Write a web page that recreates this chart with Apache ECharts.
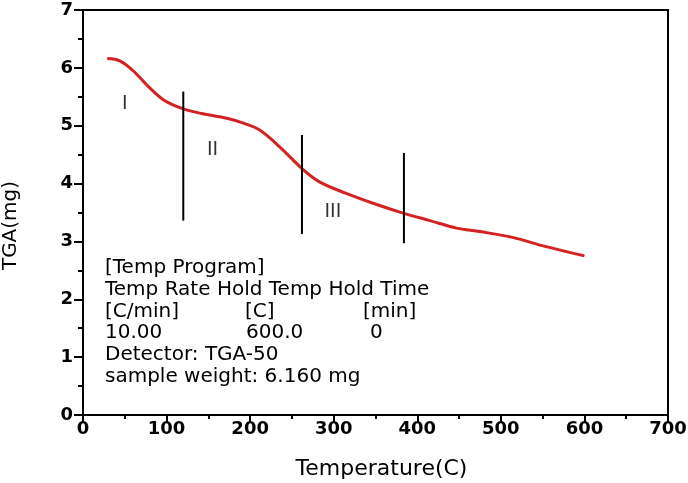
<!DOCTYPE html>
<html>
<head>
<meta charset="utf-8">
<script src="https://cdn.jsdelivr.net/npm/echarts@6/dist/echarts.min.js"></script>
<style>html,body{margin:0;padding:0;background:#fff}#c{width:688px;height:483px}</style>
</head>
<body>
<div id="c"></div>
<script>
// Curve data
var tempC = [29, 44, 60, 78, 98, 120, 142, 172, 191, 211, 235, 262, 283, 315, 347, 383, 415, 447, 475, 514, 554, 600];
var tgaMg = [6.16, 6.12, 5.95, 5.68, 5.43, 5.29, 5.21, 5.13, 5.05, 4.93, 4.64, 4.26, 4.03, 3.83, 3.66, 3.49, 3.36, 3.23, 3.17, 3.07, 2.91, 2.75];
// Stage dividers
var dividerTemp = [120, 262, 384];
var dividerTop = [5.59, 4.84, 4.53];
var dividerBottom = [3.36, 3.13, 2.97];
// Stage labels
var stageNames = ['I', 'II', 'III'];
var stageTemp = [50, 155, 299];
var stageTga = [5.38, 4.58, 3.51];
// Axis ticks
var xTicks = [0, 100, 200, 300, 400, 500, 600, 700];
var yTicks = [0, 1, 2, 3, 4, 5, 6, 7];
// Info block text
var infoRows = [
  ['[Temp Program]'],
  ['Temp Rate Hold Temp Hold Time'],
  ['[C/min]', '[C]', '[min]'],
  ['10.00', '600.0', '0'],
  ['Detector: TGA-50'],
  ['sample weight: 6.160 mg']
];

var chart = echarts.init(document.getElementById('c'));
var FONT = 'DejaVu Sans';

var series = [{
  type: 'line',
  data: tempC.map(function (t, i) { return [t, tgaMg[i]]; }),
  smooth: 0.35,
  showSymbol: false,
  lineStyle: { color: '#d42222', width: 3 },
  itemStyle: { color: '#d42222' },
  z: 3
}];
dividerTemp.forEach(function (t, i) {
  series.push({
    type: 'line',
    data: [[t, dividerTop[i]], [t, dividerBottom[i]]],
    showSymbol: false,
    lineStyle: { color: '#000', width: 2 },
    z: 4
  });
});
series.push({
  type: 'scatter',
  data: stageTemp.map(function (t, i) { return { value: [t, stageTga[i]], name: stageNames[i] }; }),
  symbolSize: 0,
  label: {
    show: true, position: 'inside', formatter: '{b}',
    color: '#000', fontFamily: FONT, fontSize: 19
  },
  z: 5
});

var colX = [[105], [105], [105, 245, 363], [105, 246, 370], [105], [105]];
var rowY = [268, 290, 311.5, 333, 355, 376.5];
var graphics = [];
infoRows.forEach(function (row, r) {
  row.forEach(function (txt, c) {
    graphics.push({
      type: 'text', x: colX[r][c], y: rowY[r],
      style: { text: txt, fill: '#000', font: '20px "' + FONT + '"', textVerticalAlign: 'middle', textAlign: 'left' },
      z: 10
    });
  });
});

chart.setOption({
  animation: false,
  backgroundColor: '#fff',
  grid: { left: 83, right: 20, top: 10, bottom: 68, show: true, borderColor: '#000', borderWidth: 2, containLabel: false, outerBoundsMode: 'none' },
  xAxis: {
    type: 'value', min: xTicks[0], max: xTicks[xTicks.length - 1], interval: 100,
    name: 'Temperature(C)', nameLocation: 'middle', nameGap: 43,
    nameTextStyle: { fontFamily: FONT, fontSize: 22, color: '#000', padding: [0, 0, 0, 12] },
    axisLine: { lineStyle: { color: '#000', width: 2 } },
    axisTick: { inside: false, length: 7, lineStyle: { color: '#000', width: 2 } },
    minorTick: { show: true, splitNumber: 2, length: 4, lineStyle: { color: '#000', width: 2 } },
    axisLabel: { margin: 5, fontFamily: FONT, fontWeight: 'bold', fontSize: 18, color: '#000' },
    splitLine: { show: false }
  },
  yAxis: {
    type: 'value', min: yTicks[0], max: yTicks[yTicks.length - 1], interval: 1,
    name: 'TGA(mg)', nameLocation: 'middle', nameGap: 62,
    nameTextStyle: { fontFamily: FONT, fontSize: 20, color: '#000', padding: [0, 26, 0, 0] },
    axisLine: { lineStyle: { color: '#000', width: 2 } },
    axisTick: { inside: false, length: 9, lineStyle: { color: '#000', width: 2 } },
    minorTick: { show: true, splitNumber: 2, length: 5, lineStyle: { color: '#000', width: 2 } },
    axisLabel: { margin: 10, fontFamily: FONT, fontWeight: 'bold', fontSize: 18, color: '#000' },
    splitLine: { show: false }
  },
  series: series,
  graphic: graphics
});
</script>
</body>
</html>
